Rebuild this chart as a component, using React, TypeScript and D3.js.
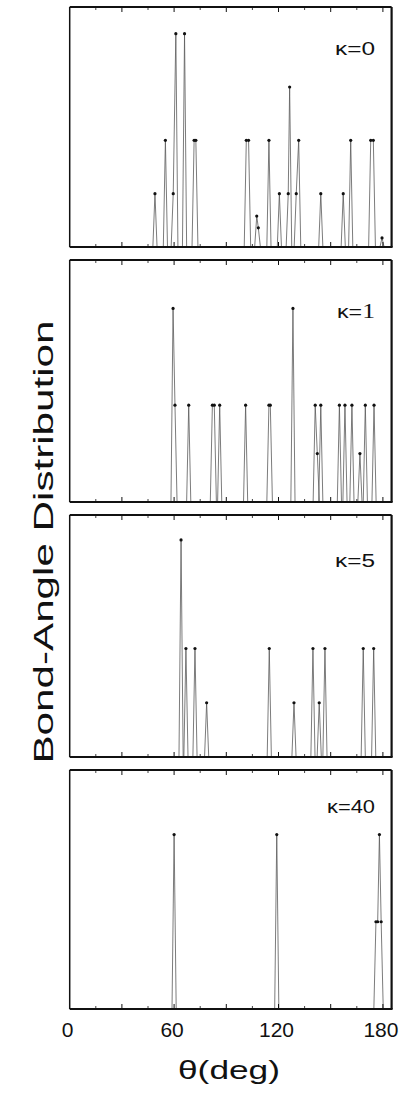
import React from "react";
import * as d3 from "d3";

// ---- data ----
const kappaLabels = ["κ=0", "κ=1", "κ=5", "κ=40"];

const angles0 = [49, 55, 59.5, 61, 66, 71.5, 72.5, 101.5, 102.8, 107.5, 108.4, 114.5, 120.5, 125.6, 126.4, 130.2, 131.6, 144.3, 157.2, 161.5, 173, 174.5, 179.5];
const values0 = [1, 2, 1, 4, 4, 2, 2, 2, 2, 0.58, 0.36, 2, 1, 1, 3, 1, 2, 1, 1, 2, 2, 2, 0.17];

const angles1 = [59.4, 60.5, 68.4, 82, 83.1, 86.2, 101.1, 114.5, 115.3, 128.3, 141.1, 142.3, 144.3, 155, 158.2, 162.2, 166.8, 169.9, 174.9];
const values1 = [2, 1, 1, 1, 1, 1, 1, 1, 1, 2, 1, 0.5, 1, 1, 1, 1, 0.5, 1, 1];

const angles2 = [64, 66.8, 72, 78.7, 114.7, 128.9, 139.8, 143.4, 146.7, 168.7, 174.7];
const values2 = [2, 1, 1, 0.5, 1, 0.5, 1, 0.5, 1, 1, 1];

const angles3 = [60, 119, 176, 177, 178, 179];
const values3 = [1, 1, 0.5, 0.5, 1, 0.5];

const yMax = [4.5, 2.5, 2.23, 1.37];
const xMajorTicks = [30, 60, 90, 120, 150, 180];
const xMinorTicks = [15, 45, 75, 105, 135, 165];
const xTickLabels = [0, 60, 120, 180];

// ---- layout ----
const W = 402;
const H = 1093;
const left = 69.7;
const right = 391.6;
const tops = [7, 260, 515, 770];
const bottoms = [247, 502, 757, 1009];
const labelY = [48, 58, 52, 43];
const labelLen = [40, 38, 40, 48];

const x = d3.scaleLinear().domain([0, 185]).range([left, right]);

const series = [
  { a: angles0, v: values0 },
  { a: angles1, v: values1 },
  { a: angles2, v: values2 },
  { a: angles3, v: values3 },
];

function buildPath(a: number[], v: number[]): [number, number][] {
  const pts = a.map((d, i) => [d, v[i]] as [number, number]).sort((p, q) => p[0] - q[0]);
  const hw = 1.2;
  const out: [number, number][] = [];
  for (let i = 0; i < pts.length; i++) {
    const p = pts[i];
    const prev = pts[i - 1];
    const next = pts[i + 1];
    if (!prev || p[0] - prev[0] > 1.6) out.push([p[0] - hw, 0]);
    out.push(p);
    if (!next || next[0] - p[0] > 1.6) out.push([p[0] + hw, 0]);
  }
  return out;
}

function KLabel({ idx, top }: { idx: number; top: number }) {
  const label = kappaLabels[idx];
  const common = {
    x: 375,
    y: top + labelY[idx],
    textAnchor: "end" as const,
    fontFamily: "Liberation Sans, Arial, sans-serif",
    fontSize: 19,
    textLength: labelLen[idx],
    lengthAdjust: "spacingAndGlyphs",
    fill: "#111",
  };
  if (label.endsWith("=1")) {
    return (
      <text {...common}>
        {label.slice(0, -1)}
        <tspan fontFamily="Liberation Serif, Times New Roman, serif" fontSize={21}>
          {label.slice(-1)}
        </tspan>
      </text>
    );
  }
  return <text {...common}>{label}</text>;
}

function Panel({ idx }: { idx: number }) {
  const top = tops[idx];
  const bottom = bottoms[idx];
  const y = d3.scaleLinear().domain([0, yMax[idx]]).range([bottom, top]);
  const s = series[idx];
  const pts = buildPath(s.a, s.v);
  const line = d3
    .line<[number, number]>()
    .x((d) => x(d[0]))
    .y((d) => y(d[1]));
  return (
    <g>
      <path d={line(pts) || ""} fill="none" stroke="#5a5a5a" strokeWidth={0.8} />
      {s.a.map((d, i) => (
        <circle key={i} cx={x(d)} cy={y(s.v[i])} r={1.6} fill="#111" />
      ))}
      {xMajorTicks.map((t) => (
        <g key={"M" + t}>
          <line x1={x(t)} x2={x(t)} y1={top} y2={top + 5} stroke="#111" strokeWidth={1} />
          <line x1={x(t)} x2={x(t)} y1={bottom} y2={bottom - 5} stroke="#111" strokeWidth={1} />
        </g>
      ))}
      {xMinorTicks.map((t) => (
        <g key={"m" + t}>
          <line x1={x(t)} x2={x(t)} y1={top} y2={top + 3} stroke="#111" strokeWidth={0.8} />
          <line x1={x(t)} x2={x(t)} y1={bottom} y2={bottom - 3} stroke="#111" strokeWidth={0.8} />
        </g>
      ))}
      <line x1={left} x2={left} y1={top} y2={bottom} stroke="#111" strokeWidth={1.5} />
      <line x1={left} x2={right} y1={top} y2={top} stroke="#111" strokeWidth={1.8} />
      <line x1={left} x2={right + 1} y1={bottom} y2={bottom} stroke="#111" strokeWidth={2.2} />
      <line x1={right} x2={right} y1={top} y2={bottom} stroke="#111" strokeWidth={2.2} />
      <KLabel idx={idx} top={top} />
    </g>
  );
}

export default function App() {
  return (
    <svg
      width={W}
      height={H}
      style={{ position: "absolute", left: 0, top: 0, background: "#fff" }}
    >
      {[0, 1, 2, 3].map((i) => (
        <Panel key={i} idx={i} />
      ))}
      {xTickLabels.map((t) => (
        <text
          key={t}
          x={x(t) - 2}
          y={1037}
          textAnchor="middle"
          fontFamily="Liberation Sans, Arial, sans-serif"
          fontSize={21}
          fill="#111"
        >
          {t}
        </text>
      ))}
      <text
        x={229}
        y={1079}
        textAnchor="middle"
        fontFamily="Liberation Sans, Arial, sans-serif"
        fontSize={25}
        textLength={102}
        lengthAdjust="spacingAndGlyphs"
        fill="#111"
      >
        θ(deg)
      </text>
      <text
        transform={`translate(53, 542) rotate(-90)`}
        textAnchor="middle"
        fontFamily="Liberation Sans, Arial, sans-serif"
        fontSize={27}
        textLength={443}
        lengthAdjust="spacingAndGlyphs"
        fill="#111"
      >
        Bond-Angle Distribution
      </text>
    </svg>
  );
}
